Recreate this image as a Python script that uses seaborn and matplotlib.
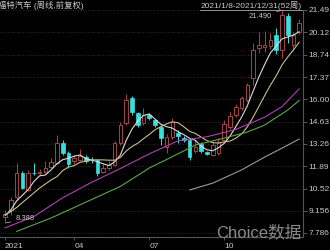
import numpy as np
import pandas as pd
import matplotlib
matplotlib.use("Agg")
import matplotlib.pyplot as plt
import seaborn as sns
from matplotlib.lines import Line2D

# ---------------- data (weekly candles, 2021/1/8 - 2021/12/31) ----------------
weeks = list(range(52))
opens = [8.77, 9.20, 9.98, 11.47, 10.43, 11.50, 11.45, 11.55, 11.84, 12.09,
         13.32, 12.70, 12.20, 12.30, 12.46, 12.30, 12.25, 11.55, 11.75, 11.97,
         13.30, 14.55, 16.08, 15.16, 14.54, 15.04, 14.73, 14.30, 13.07, 13.68,
         13.93, 13.60, 13.50, 12.80, 13.25, 12.76, 12.60, 12.70, 13.50, 14.30,
         15.04, 15.47, 15.96, 17.31, 19.15, 19.20, 19.28, 19.95, 19.03, 21.12,
         19.35, 20.15]
highs = [9.20, 9.99, 12.10, 11.60, 11.66, 12.09, 11.70, 12.20, 12.40, 13.80,
         13.50, 12.80, 12.60, 12.95, 12.60, 12.45, 12.35, 12.00, 12.20, 13.45,
         14.60, 16.33, 16.20, 15.25, 15.47, 15.15, 14.80, 14.40, 13.90, 14.85,
         14.10, 13.75, 13.60, 13.50, 13.35, 12.85, 13.40, 13.60, 14.70, 15.20,
         15.70, 16.20, 17.00, 19.46, 20.14, 20.20, 20.07, 20.38, 21.49, 21.30,
         20.14, 20.94]
lows = [8.388, 8.90, 9.80, 10.50, 10.35, 11.35, 11.35, 11.45, 11.75, 12.00,
        12.60, 11.78, 12.05, 12.20, 12.10, 12.10, 11.30, 11.45, 11.65, 11.90,
        13.20, 14.45, 15.05, 14.30, 14.45, 14.70, 14.30, 13.19, 12.70, 13.55,
        13.30, 13.40, 12.27, 12.70, 12.70, 12.55, 12.50, 12.60, 13.40, 14.20,
        14.90, 15.35, 15.85, 16.90, 18.85, 18.90, 19.10, 18.80, 18.54, 19.46,
        19.00, 20.00]
closes = [8.95, 9.81, 11.47, 10.55, 11.47, 11.45, 11.55, 11.75, 12.15, 13.32,
          12.70, 12.00, 12.40, 12.50, 12.20, 12.25, 11.50, 11.75, 11.95, 13.30,
          14.40, 15.96, 15.22, 14.42, 15.04, 14.85, 14.42, 13.62, 13.68, 14.60,
          13.75, 13.50, 12.46, 13.10, 12.80, 12.64, 13.20, 13.38, 14.50, 15.00,
          15.53, 16.08, 16.88, 19.03, 19.34, 19.35, 19.65, 19.03, 21.18, 19.95,
          19.95, 20.69]

ma5 = [8.85, 9.20, 9.75, 10.10, 10.45, 10.95, 11.30, 11.35, 11.67, 12.04,
       12.29, 12.38, 12.51, 12.58, 12.36, 12.27, 12.17, 12.04, 11.93, 12.15,
       12.58, 13.47, 14.17, 14.66, 15.01, 15.10, 14.79, 14.47, 14.32, 14.23,
       14.01, 13.83, 13.60, 13.48, 13.12, 12.90, 12.84, 13.02, 13.30, 13.74,
       14.32, 14.90, 15.60, 16.50, 17.37, 18.14, 18.85, 19.28, 19.71, 19.83,
       19.95, 20.16]
ma10 = [8.90, 9.10, 9.35, 9.65, 9.95, 10.25, 10.55, 10.80, 11.05, 11.25,
        11.62, 11.84, 11.93, 12.13, 12.20, 12.28, 12.28, 12.28, 12.26, 12.26,
        12.43, 12.82, 13.10, 13.30, 13.58, 13.84, 14.13, 14.32, 14.49, 14.62,
        14.56, 14.31, 14.03, 13.90, 13.68, 13.46, 13.34, 13.31, 13.39, 13.43,
        13.61, 13.87, 14.31, 14.90, 15.56, 16.23, 16.87, 17.44, 18.11, 18.60,
        19.04, 19.51]
ma20_idx = [0, 5, 10, 15, 20, 25, 30, 35, 40, 45, 48, 51]
ma20 = [8.10, 8.80, 9.95, 10.90, 11.75, 12.65, 13.45, 13.70, 14.15, 14.90, 15.55, 16.65]
ma30_idx = [2, 8, 14, 20, 25, 28, 33, 38, 42, 45, 49, 51]
ma30 = [7.88, 8.71, 9.68, 10.65, 11.78, 12.30, 13.19, 13.62, 13.99, 14.42, 15.34, 15.93]
ma60_idx = [32, 36, 41, 45, 48, 51]
ma60 = [10.43, 10.85, 11.66, 12.45, 13.00, 13.56]

ytick_vals = [7.786, 9.156, 10.52, 11.89, 13.26, 14.63, 16.00, 17.37, 18.74, 20.12, 21.49]
ytick_labels = ["7.786", "9.156", "10.52", "11.89", "13.26", "14.63", "16.00",
                "17.37", "18.74", "20.12", "21.49"]
xtick_pos = [0, 12, 25, 38]
xtick_labels = ["2021", "04", "07", "10"]

title = "福特汽车 (周线,前复权)"
period = "2021/1/8-2021/12/31(52周)"
watermark = "Choice数据"

# ---------------- style ----------------
sns.set_theme(style="dark")
plt.rcParams["font.family"] = ["Liberation Sans", "Noto Sans CJK SC", "DejaVu Sans"]
plt.rcParams["axes.unicode_minus"] = False

BG = "#000000"
UP = "#a84444"
DOWN = "#36e0e0"
TXT = "#c8c8c8"

fig = plt.figure(figsize=(3.3, 2.5), dpi=100, facecolor=BG)
ax = fig.add_axes([0, 13 / 250, 303 / 330, 227 / 250], facecolor=BG)

# candles
for x, o, h, l, c in zip(weeks, opens, highs, lows, closes):
    if c >= o:
        ax.vlines(x, l, o, color=UP, lw=0.7, zorder=3)
        ax.vlines(x, c, h, color=UP, lw=0.7, zorder=3)
        ax.bar(x, c - o, bottom=o, width=0.62, facecolor=BG, edgecolor=UP,
               linewidth=0.7, zorder=4)
    else:
        ax.vlines(x, l, h, color=DOWN, lw=0.7, zorder=3)
        ax.bar(x, o - c, bottom=c, width=0.62, facecolor=DOWN, edgecolor=DOWN,
               linewidth=0.5, zorder=4)

# moving averages
lines = [
    (weeks, ma5, "#dcdcdc"),
    (weeks, ma10, "#cbbd8c"),
    (ma20_idx, ma20, "#b33fb3"),
    (ma30_idx, ma30, "#5aa845"),
    (ma60_idx, ma60, "#9a9a9a"),
]
for xs, ys, col in lines:
    df = pd.DataFrame({"w": xs, "v": ys})
    sns.lineplot(data=df, x="w", y="v", color=col, lw=0.8, ax=ax, zorder=5)

ax.set_xlim(-0.87, 51.65)
ax.set_ylim(7.54, 21.49)

ax.yaxis.tick_right()
ax.set_yticks(ytick_vals)
ax.set_yticklabels(ytick_labels)
ax.set_xticks(xtick_pos)
ax.set_xticklabels(xtick_labels, ha="left")
ax.tick_params(axis="y", length=3, width=0.6, color="#666666", labelcolor=TXT,
               labelsize=6, pad=1, right=True, left=False)
ax.tick_params(axis="x", length=2, width=0.6, color="#666666", labelcolor=TXT,
               labelsize=6, pad=2, bottom=True)
ax.set_xlabel("")
ax.set_ylabel("")

ax.grid(False)
for yv in ytick_vals:
    ax.axhline(yv, color="#3a3a3a", lw=0.6, ls=(0, (1, 2)), zorder=1)

for side in ["left", "top"]:
    ax.spines[side].set_visible(False)
for side in ["right", "bottom"]:
    ax.spines[side].set_visible(True)
    ax.spines[side].set_color("#555555")
    ax.spines[side].set_linewidth(0.8)

# extreme labels
ax.annotate("21.490", xy=(48, 21.49), xytext=(46.3, 21.06), ha="right", va="center",
            fontsize=5.5, color=TXT,
            arrowprops=dict(arrowstyle="-", color=TXT, lw=0.5, shrinkA=1, shrinkB=1),
            zorder=6)
ax.annotate("8.388", xy=(0, 8.388), xytext=(1.8, 8.68), ha="left", va="center",
            fontsize=5.5, color=TXT,
            arrowprops=dict(arrowstyle="-", color=TXT, lw=0.5, shrinkA=1, shrinkB=1),
            zorder=6)

# header texts
fig.text(-1.5 / 330, 1 - 5 / 250, title, ha="left", va="center", fontsize=6, color=TXT)
fig.text(302 / 330, 1 - 5 / 250, period, ha="right", va="center", fontsize=6, color=TXT)
fig.add_artist(Line2D([200 / 330, 302 / 330], [1 - 10 / 250, 1 - 10 / 250],
                      color=TXT, lw=0.5))

# watermark
fig.text(301 / 330, 1 - 237 / 250, watermark, ha="right", va="baseline",
         fontsize=12, color="#8a8a8a", zorder=10)

fig.savefig("out.png", dpi=100, facecolor=BG)
